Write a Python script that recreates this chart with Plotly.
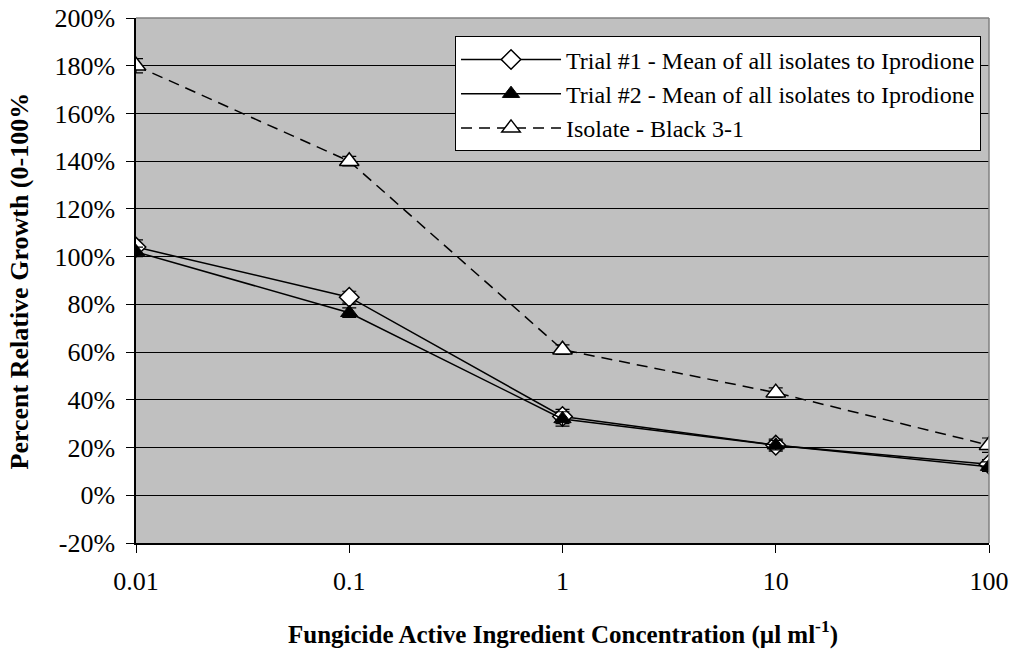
import plotly.graph_objects as go

# Fungicide concentrations (µl/ml)
concentrations = [0.01, 0.1, 1, 10, 100]

# Percent relative growth per series
trial1_mean = [104, 83, 33, 21, 13]
trial1_err = [3, 2.5, 3, 2.5, 2]
trial2_mean = [102, 76.5, 32, 21, 12]
trial2_err = [2, 2, 3, 2, 2]
black31 = [180, 140, 61, 43, 21]
black31_err = [3, 2, 2, 2, 3]

y_ticks = list(range(-20, 201, 20))
y_tick_labels = [f"{v}%" for v in y_ticks]
x_tick_labels = ["0.01", "0.1", "1", "10", "100"]

FONT = "Liberation Serif, Times New Roman, serif"

fig = go.Figure()

fig.add_trace(go.Scatter(
    x=concentrations, y=trial1_mean, mode="lines+markers",
    name="Trial #1 - Mean of all isolates to Iprodione",
    line=dict(color="black", width=1.5),
    marker=dict(symbol="diamond", size=15, color="white",
                line=dict(color="black", width=1.5)),
    error_y=dict(type="data", array=trial1_err, color="black",
                 thickness=1.2, width=7),
))
fig.add_trace(go.Scatter(
    x=concentrations, y=trial2_mean, mode="lines+markers",
    name="Trial #2 - Mean of all isolates to Iprodione",
    line=dict(color="black", width=1.5),
    marker=dict(symbol="triangle-up", size=15, color="black",
                line=dict(color="black", width=1)),
    error_y=dict(type="data", array=trial2_err, color="black",
                 thickness=1.2, width=7),
))
fig.add_trace(go.Scatter(
    x=concentrations, y=black31, mode="lines+markers",
    name="Isolate - Black 3-1",
    line=dict(color="black", width=1.5, dash="11px,7px"),
    marker=dict(symbol="triangle-up", size=17, color="white",
                line=dict(color="black", width=1.5)),
    error_y=dict(type="data", array=black31_err, color="black",
                 thickness=1.2, width=7),
))

fig.update_layout(
    width=1015, height=650,
    margin=dict(l=136, r=26, t=18, b=107),
    paper_bgcolor="white",
    plot_bgcolor="#C0C0C0",
    font=dict(family=FONT, size=26, color="black"),
    showlegend=True,
    legend=dict(
        x=0.374, y=0.965, xanchor="left", yanchor="top",
        bgcolor="white", bordercolor="black", borderwidth=1,
        font=dict(family=FONT, size=24, color="black"),
        itemwidth=100, tracegroupgap=0,
    ),
)

fig.update_xaxes(
    type="log", range=[-2, 2], automargin=False,
    tickvals=concentrations, ticktext=x_tick_labels,
    ticks="outside", ticklen=8, tickcolor="black", ticklabelstandoff=6,
    showline=True, linecolor="black", linewidth=1.5, mirror=False,
    showgrid=False, zeroline=False,
    tickfont=dict(family=FONT, size=26),
)
fig.update_yaxes(
    range=[-20, 200], automargin=False,
    tickvals=y_ticks, ticktext=y_tick_labels,
    ticks="outside", ticklen=8, tickcolor="black", ticklabelstandoff=6,
    showline=True, linecolor="black", linewidth=1.5,
    showgrid=True, gridcolor="black", gridwidth=1,
    zeroline=False,
    tickfont=dict(family=FONT, size=26),
)

# Axis titles
fig.add_annotation(
    text="<b>Fungicide Active Ingredient Concentration (µl ml<sup>-1</sup>)</b>",
    xref="paper", yref="paper", x=0.5, y=-0.171,
    xanchor="center", yanchor="middle", showarrow=False,
    font=dict(family=FONT, size=25),
)
fig.add_annotation(
    text="<b>Percent Relative Growth (0-100%</b>",
    xref="paper", yref="paper", x=-0.136, y=0.5, textangle=-90,
    xanchor="center", yanchor="middle", showarrow=False,
    font=dict(family=FONT, size=26),
)

# Gray frame on top and right of the plotting area
fig.add_shape(type="line", xref="paper", yref="paper", x0=0, x1=1, y0=1, y1=1,
              line=dict(color="#808080", width=1.5))
fig.add_shape(type="line", xref="paper", yref="paper", x0=1, x1=1, y0=0, y1=1,
              line=dict(color="#808080", width=1.5))

fig.write_html("out.html")
